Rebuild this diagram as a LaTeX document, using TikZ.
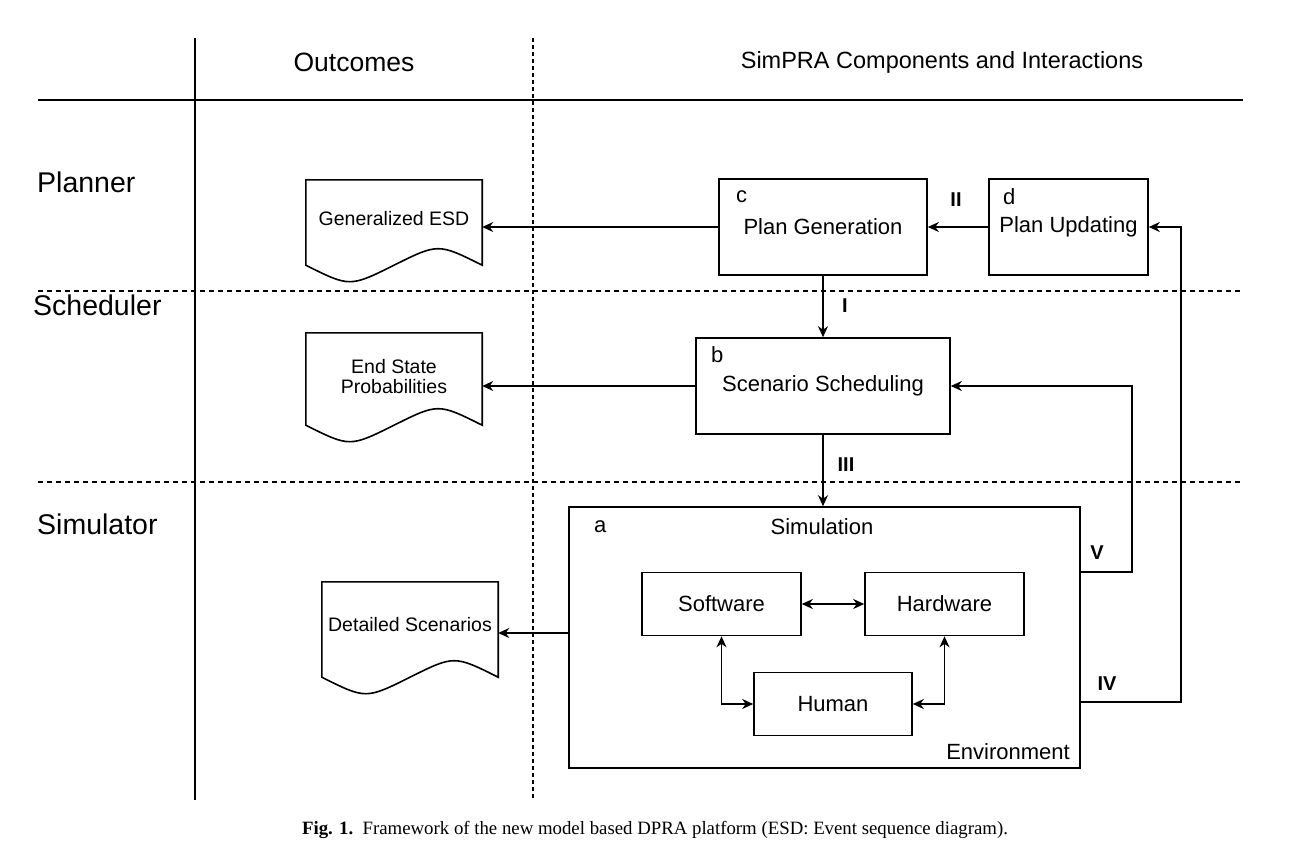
\documentclass[tikz,border=0pt]{standalone}
\usepackage{fontspec}
\setmainfont{Liberation Sans}
\newfontfamily\capfont{Liberation Serif}
\usetikzlibrary{arrows.meta,calc}
\tikzset{
  box/.style={draw,line width=1.6pt,inner sep=0pt},
  docbox/.style={inner sep=0pt,font=\fontsize{19.5}{22}\selectfont,align=center},
  conn/.style={line width=1.6pt,-{Stealth[length=11pt,width=10pt,inset=3.5pt]}},
  bconn/.style={line width=1.6pt,{Stealth[length=11pt,width=10pt,inset=3.5pt]}-{Stealth[length=11pt,width=10pt,inset=3.5pt]}},
  rom/.style={font=\fontsize{20}{24}\selectfont\bfseries},
  txt/.style={font=\fontsize{22}{26}\selectfont,inner sep=0pt},
  row/.style={font=\fontsize{28.5}{32}\selectfont,inner sep=0pt},
  sep/.style={line width=1.2pt,dash pattern=on 5pt off 4pt}
}
\newcommand\docshape[2]{%
  \draw[line width=1.6pt] (#1.north west) -- (#1.north east) -- (#1.south east)
   .. controls ([xshift=-#2*0.25pt,yshift=22pt]#1.south east) .. (#1.south)
   .. controls ([xshift=#2*0.25pt,yshift=-22pt]#1.south west) .. (#1.south west) -- cycle;}
\begin{document}
\begin{tikzpicture}[x=1pt,y=-1pt]
\useasboundingbox (0,0) rectangle (1310,860);
% grid lines
\draw[line width=2pt] (195,38) -- (195,800);
\draw[line width=1.2pt,dash pattern=on 4pt off 3pt] (533,38) -- (533,800);
\draw[line width=2pt] (38,100) -- (1243,100);
\draw[sep] (38,291) -- (1243,291);
\draw[sep] (38,482) -- (1243,482);
% headers
\node[font=\fontsize{26.5}{30}\selectfont,inner sep=0pt] (hout) at (354,62) {Outcomes};
\node[font=\fontsize{23.5}{28}\selectfont,inner sep=0pt] (hsim) at (942,62) {SimPRA Components and Interactions};
\node[row,anchor=west] (rp) at (37,182) {Planner};
\node[row,anchor=west] (rs) at (33,305) {Scheduler};
\node[row,anchor=west] (rsi) at (37,524) {Simulator};
% boxes
\node[box,minimum width=208pt,minimum height=96pt] (c) at (823,227) {};
\node[txt] (ct) at (c) {Plan Generation};
\node[txt,anchor=west] (cl) at (736,197) {c};
\node[box,minimum width=159pt,minimum height=96pt] (d) at (1068.5,227) {};
\node[txt] (dt) at (d) {Plan Updating};
\node[txt,anchor=west] (dl) at (1003,197) {d};
\node[box,minimum width=254pt,minimum height=96pt] (b) at (823,386) {};
\node[txt] (bt) at (b) {Scenario Scheduling};
\node[txt,anchor=west] (bl) at (711,355) {b};
\node[box,minimum width=511pt,minimum height=261pt] (a) at (824.5,637.5) {};
\node[txt,anchor=west] (al) at (594,527) {a};
\node[txt] (asim) at (822,527) {Simulation};
\node[txt,anchor=east] (aenv) at (1070,752) {Environment};
\node[box,minimum width=159pt,minimum height=63pt] (sw) at (721.5,604) {};
\node[txt] at (sw) {Software};
\node[box,minimum width=159pt,minimum height=63pt] (hw) at (944.5,604) {};
\node[txt] at (hw) {Hardware};
\node[box,minimum width=158pt,minimum height=63pt] (hu) at (833,704) {};
\node[txt] at (hu) {Human};
% documents
\node[docbox,minimum width=176pt,minimum height=85pt] (g) at (394,222.5) {\raisebox{8pt}{Generalized ESD}};
\docshape{g}{176}
\node[docbox,minimum width=176pt,minimum height=92pt] (e) at (394,379) {\raisebox{8pt}{\begin{tabular}{@{}c@{}}End State\\[-2pt]Probabilities\end{tabular}}};
\docshape{e}{176}
\node[docbox,minimum width=176pt,minimum height=95pt] (ds) at (410,629.5) {\raisebox{10pt}{Detailed Scenarios}};
\docshape{ds}{176}
% connectors
\draw[conn] (d.west) -- (c.east);
\node[rom] (l2) at (956,200) {II};
\draw[conn] (c.west) -- (c.west -| g.east);
\draw[conn] (c.south -| b.north) -- (b.north);
\node[rom] (l1) at (845,306) {I};
\draw[conn] (b.west) -- (b.west -| e.east);
\draw[conn] (b.south) -- (b.south |- a.north);
\node[rom] (l3) at (846,465) {III};
\coordinate (aw) at (a.west |- 0,633);
\draw[conn] (aw) -- (aw -| ds.east);
\draw[bconn] (sw.east) -- (hw.west);
\draw[bconn] (sw.south) |- (hu.west);
\draw[bconn] (hw.south) |- (hu.east);
\coordinate (v1) at ([yshift=65.5pt]a.east);
\coordinate (v2) at ([yshift=-64.5pt]a.east);
\draw[conn] (v1) -| (1132,460) |- (b.east);
\node[rom] (l5) at (1097,553) {V};
\draw[conn] (v2) -| (1181,460) |- (d.east);
\node[rom] (l4) at (1107,684) {IV};
% caption
\node[font=\capfont\fontsize{18.8}{22}\selectfont,inner sep=0pt] (cap) at (655,830) {\textbf{Fig. 1.}\ \ Framework of the new model based DPRA platform (ESD: Event sequence diagram).};
\end{tikzpicture}
\end{document}
